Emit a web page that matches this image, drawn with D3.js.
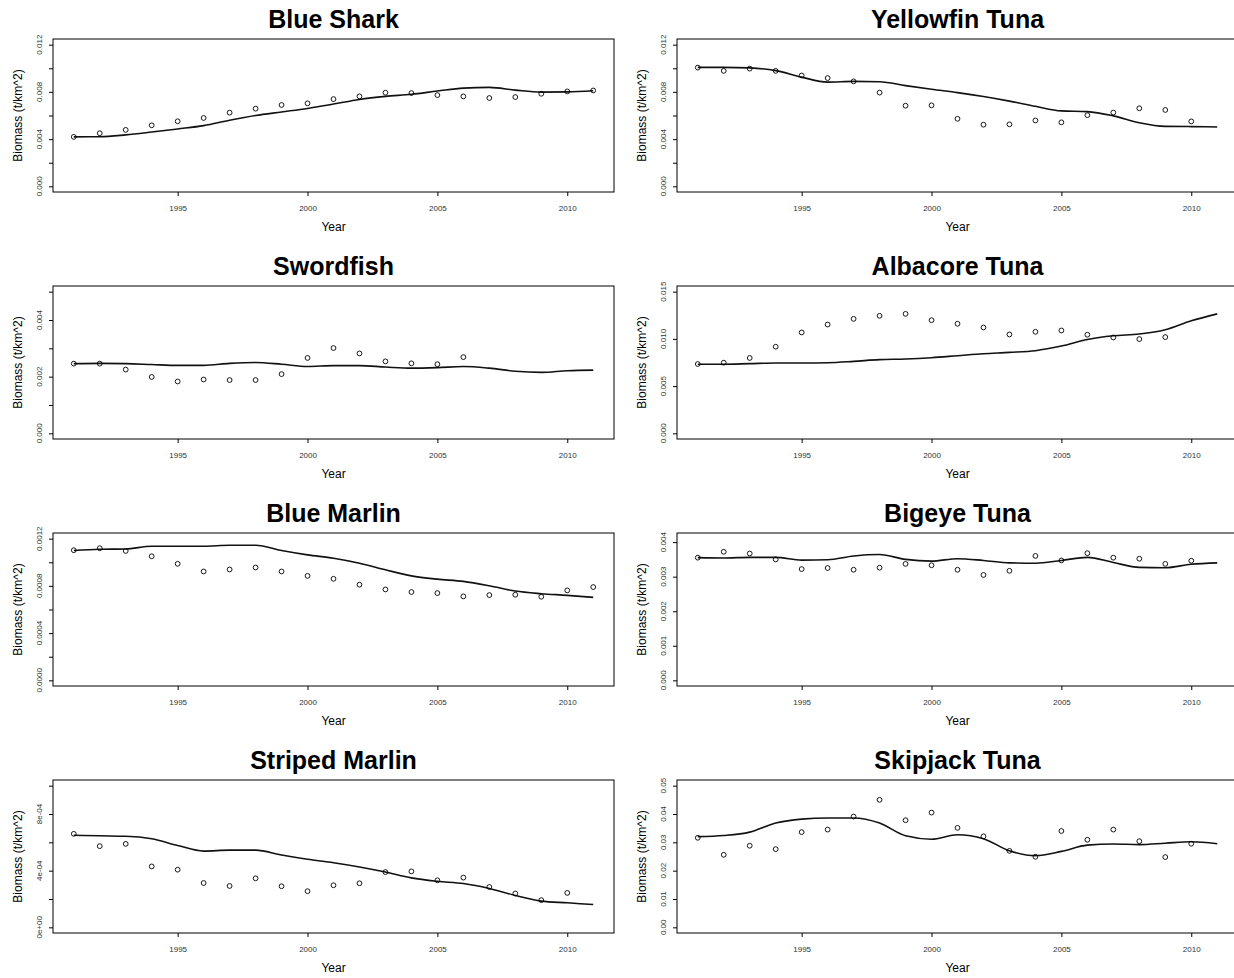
<!DOCTYPE html>
<html>
<head>
<meta charset="utf-8">
<script src="https://cdn.jsdelivr.net/npm/d3@7"></script>
<style>
  body { margin: 0; background: #fff; }
  svg { display: block; font-family: "Liberation Sans", Arial, sans-serif; }
</style>
</head>
<body>
<svg width="1234" height="978"></svg>
<script>
const years = [1991, 1992, 1993, 1994, 1995, 1996, 1997, 1998, 1999, 2000, 2001,
               2002, 2003, 2004, 2005, 2006, 2007, 2008, 2009, 2010, 2011];
const xTicks = [1995, 2000, 2005, 2010];

const speciesNames = ['Blue Shark', 'Yellowfin Tuna', 'Swordfish', 'Albacore Tuna',
                      'Blue Marlin', 'Bigeye Tuna', 'Striped Marlin', 'Skipjack Tuna'];

// observed biomass (points), null = no observation
const blueSharkObs = [0.00419, 0.0045, 0.00478, 0.00517, 0.00551, 0.00579, 0.00624, 0.00658, 0.00689, 0.00703, 0.00739,
                      0.00762, 0.00793, 0.0079, 0.00773, 0.00762, 0.00748, 0.00756, 0.00784, 0.00804, 0.00812];
const yellowfinObs = [0.01006, 0.00978, 0.00997, 0.00978, 0.00939, 0.00917, 0.00889, 0.00794, 0.00683, 0.00686, 0.00572,
                      0.00522, 0.00525, 0.00558, 0.00542, 0.00603, 0.00625, 0.00661, 0.00647, 0.0055, null];
const swordfishObs = [0.00246, 0.00246, 0.00225, 0.00199, 0.00183, 0.0019, 0.00188, 0.00188, 0.00209, 0.00266, 0.00301,
                      0.00282, 0.00254, 0.00247, 0.00244, 0.00269, null, null, null, null, null];
const albacoreObs = [0.00734, 0.00748, 0.00798, 0.00917, 0.01068, 0.01152, 0.01212, 0.01244, 0.01265, 0.01198, 0.0116,
                     0.01121, 0.01047, 0.01075, 0.01089, 0.01044, 0.01015, 0.00998, 0.01019, null, null];
const blueMarlinObs = [0.001102, 0.001119, 0.001096, 0.001051, 0.000987, 0.000922, 0.000939, 0.000956, 0.000922, 0.000885, 0.00086,
                       0.00081, 0.00077, 0.000748, 0.000739, 0.000711, 0.000722, 0.000725, 0.000708, 0.000762, 0.00079];
const bigeyeObs = [0.00355, 0.00372, 0.00367, 0.0035, 0.00322, 0.00325, 0.0032, 0.00326, 0.00337, 0.00333, 0.0032,
                   0.00305, 0.00317, 0.0036, 0.00347, 0.00368, 0.00355, 0.00352, 0.00337, 0.00346, null];
const stripedMarlinObs = [6.6e-4, 5.73e-4, 5.89e-4, 4.3e-4, 4.07e-4, 3.13e-4, 2.92e-4, 3.46e-4, 2.9e-4, 2.55e-4, 2.97e-4,
                          3.11e-4, 3.9e-4, 3.95e-4, 3.32e-4, 3.51e-4, 2.85e-4, 2.39e-4, 1.92e-4, 2.43e-4, null];
const skipjackObs = [0.0316, 0.0256, 0.0288, 0.0276, 0.0336, 0.0345, 0.0391, 0.045, 0.0378, 0.0405, 0.0351,
                     0.0321, 0.027, 0.0249, 0.034, 0.0309, 0.0345, 0.0304, 0.0248, 0.0295, null];

// model biomass (lines)
const blueSharkFit = [0.00419, 0.0042, 0.00436, 0.0046, 0.00486, 0.00514, 0.0056, 0.006, 0.0063, 0.0066, 0.00697,
                      0.00736, 0.00762, 0.0078, 0.00807, 0.00832, 0.00838, 0.00815, 0.00798, 0.008, 0.0081];
const yellowfinFit = [0.01008, 0.01008, 0.01003, 0.0098, 0.00925, 0.00883, 0.00889, 0.00886, 0.00853, 0.00822, 0.00794,
                      0.00761, 0.00722, 0.00678, 0.00639, 0.00633, 0.00597, 0.00539, 0.00508, 0.00506, 0.00503];
const swordfishFit = [0.00246, 0.00247, 0.00246, 0.00243, 0.0024, 0.0024, 0.00247, 0.0025, 0.00244, 0.00236, 0.00239,
                      0.00239, 0.00234, 0.0023, 0.00232, 0.00236, 0.0023, 0.00219, 0.00215, 0.00221, 0.00223];
const albacoreFit = [0.00731, 0.00731, 0.00738, 0.00745, 0.00745, 0.00748, 0.00762, 0.0078, 0.00787, 0.00801, 0.00822,
                     0.00843, 0.00857, 0.00875, 0.00924, 0.00994, 0.01033, 0.01051, 0.01096, 0.01191, 0.01265];
const blueMarlinFit = [0.0011, 0.00111, 0.001113, 0.001136, 0.001136, 0.001136, 0.001144, 0.001144, 0.0011, 0.001063, 0.001034,
                       0.000992, 0.000936, 0.000885, 0.000857, 0.000838, 0.000801, 0.000756, 0.000734, 0.00072, 0.000703];
const bigeyeFit = [0.00355, 0.00354, 0.00356, 0.00356, 0.00348, 0.00349, 0.0036, 0.00364, 0.0035, 0.00345, 0.00352,
                   0.00347, 0.0034, 0.00339, 0.00347, 0.00356, 0.00341, 0.00327, 0.00326, 0.00336, 0.0034];
const stripedMarlinFit = [6.5e-4, 6.46e-4, 6.43e-4, 6.25e-4, 5.78e-4, 5.38e-4, 5.45e-4, 5.45e-4, 5.1e-4, 4.8e-4, 4.56e-4,
                          4.26e-4, 3.9e-4, 3.49e-4, 3.25e-4, 3.09e-4, 2.74e-4, 2.25e-4, 1.85e-4, 1.73e-4, 1.61e-4];
const skipjackFit = [0.032, 0.0324, 0.0336, 0.0368, 0.0382, 0.0386, 0.0386, 0.0368, 0.0323, 0.0311, 0.0327,
                     0.0313, 0.027, 0.0253, 0.0268, 0.029, 0.0294, 0.0292, 0.0297, 0.0302, 0.0295];

// y axis: upper limit, tick step, and which ticks carry a label
const yMaxes = [0.012, 0.012, 0.005, 0.015, 0.0012, 0.0041, 0.001, 0.05];
const yTickSteps = [0.002, 0.002, 0.001, 0.005, 0.0002, 0.001, 0.0002, 0.01];
const yTickLabels = [
    ['0.000', null, '0.004', null, '0.008', null, '0.012'],
    ['0.000', null, '0.004', null, '0.008', null, '0.012'],
    ['0.000', null, '0.002', null, '0.004', null],
    ['0.000', '0.005', '0.010', '0.015'],
    ['0.0000', null, '0.0004', null, '0.0008', null, '0.0012'],
    ['0.000', '0.001', '0.002', '0.003', '0.004'],
    ['0e+00', null, '4e-04', null, '8e-04', null],
    ['0.00', '0.01', '0.02', '0.03', '0.04', '0.05']
];

const observed = [blueSharkObs, yellowfinObs, swordfishObs, albacoreObs, blueMarlinObs, bigeyeObs, stripedMarlinObs, skipjackObs];
const fitted = [blueSharkFit, yellowfinFit, swordfishFit, albacoreFit, blueMarlinFit, bigeyeFit, stripedMarlinFit, skipjackFit];

const BOX_W = 561, BOX_H = 153;
const boxLeft = (i) => i % 2 === 0 ? 53 : 677;
const boxTop = (i) => 39 + Math.floor(i / 2) * 247;

// R style axis range: data limits padded by 4% on each side
function padded(lo, hi) {
    let d = (hi - lo) * 0.04;
    return [lo - d, hi + d];
}

function makePanel(svg, i) {
    let g = svg.append('g')
        .attr('transform', `translate(${boxLeft(i)},${boxTop(i)})`);

    let x = d3.scaleLinear().domain(padded(1991, 2011)).range([0, BOX_W]);
    let y = d3.scaleLinear().domain(padded(0, yMaxes[i])).range([BOX_H, 0]);

    g.append('text')
        .attr('x', BOX_W / 2)
        .attr('y', -11)
        .attr('text-anchor', 'middle')
        .attr('font-size', 25)
        .attr('font-weight', 'bold')
        .text(speciesNames[i]);

    // x axis
    let xAxis = g.append('g')
        .attr('transform', `translate(0,${BOX_H})`)
        .call(d3.axisBottom(x).tickValues(xTicks).tickSize(4).tickPadding(9).tickFormat(d3.format('d')));
    xAxis.select('.domain').remove();
    xAxis.selectAll('text').attr('font-size', 8).attr('fill', '#333');

    // y axis, labels drawn parallel to the axis
    let tickVals = yTickLabels[i].map((_, k) => k * yTickSteps[i]);
    let yAxis = g.append('g')
        .call(d3.axisLeft(y).tickValues(tickVals).tickSize(4).tickFormat(''));
    yAxis.select('.domain').remove();
    g.append('g').selectAll('text')
        .data(tickVals.filter((_, k) => yTickLabels[i][k] !== null))
        .join('text')
        .attr('transform', d => `translate(-11,${y(d)}) rotate(-90)`)
        .attr('text-anchor', 'middle')
        .attr('font-size', 8)
        .attr('fill', '#333')
        .text(d => yTickLabels[i][tickVals.indexOf(d)]);

    g.append('text')
        .attr('x', BOX_W / 2)
        .attr('y', BOX_H + 39)
        .attr('text-anchor', 'middle')
        .attr('font-size', 12)
        .text('Year');
    g.append('text')
        .attr('transform', `translate(-31,${BOX_H / 2}) rotate(-90)`)
        .attr('text-anchor', 'middle')
        .attr('font-size', 12)
        .text('Biomass (t/km^2)');

    g.append('rect')
        .attr('width', BOX_W)
        .attr('height', BOX_H)
        .attr('fill', 'none')
        .attr('stroke', '#000')
        .attr('stroke-width', 1);

    let line = d3.line()
        .x((d, k) => x(years[k]))
        .y(d => y(d))
        .curve(d3.curveMonotoneX);
    g.append('path')
        .datum(fitted[i])
        .attr('d', line)
        .attr('fill', 'none')
        .attr('stroke', '#111')
        .attr('stroke-width', 1.6);

    g.append('g').selectAll('circle')
        .data(observed[i].map((v, k) => [years[k], v]).filter(d => d[1] !== null))
        .join('circle')
        .attr('cx', d => x(d[0]))
        .attr('cy', d => y(d[1]))
        .attr('r', 2.4)
        .attr('fill', 'none')
        .attr('stroke', '#000')
        .attr('stroke-width', 0.9);
}

let svg = d3.select('svg');
for (let i = 0; i < speciesNames.length; i++) {
    makePanel(svg, i);
}
</script>
</body>
</html>
